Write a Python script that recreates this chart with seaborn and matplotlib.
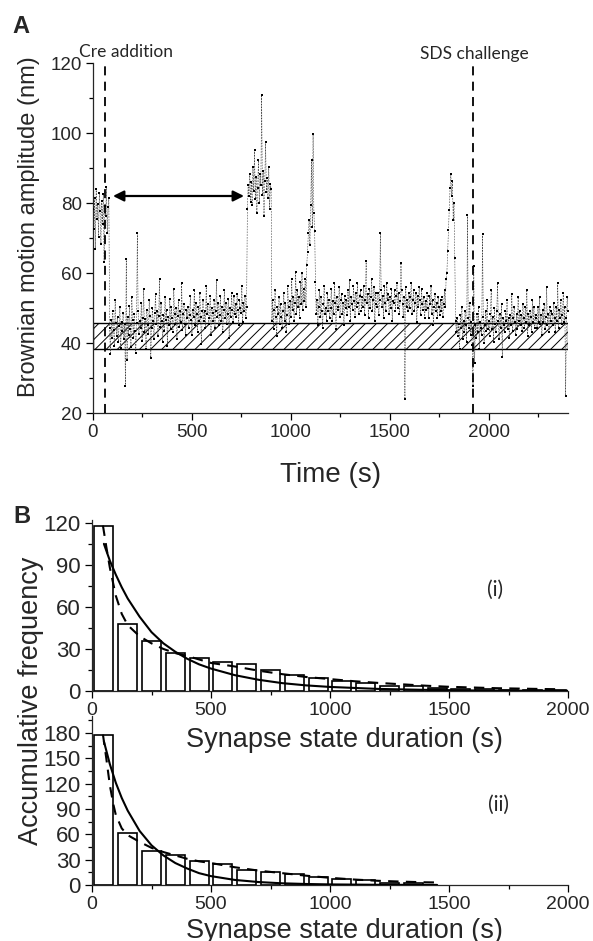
import numpy as np
import pandas as pd
import seaborn as sns
import matplotlib.pyplot as plt
from matplotlib.ticker import MultipleLocator

# ---- panel A: brownian motion amplitude, one reading every 4 s ----
amplitude = [
    78.2, 72.5, 81.3, 66.8, 84.1, 75.4, 79.6, 70.2, 83.0, 77.7, 68.4, 80.5, 74.1, 82.6, 63.2, 79.1, 76.3, 84.6, 71.5, 78.8,
    81.4, 44.2, 36.8, 46.5, 41.3, 49.1, 43.7, 39.2, 52.4, 45.6, 42.1, 47.3, 40.4, 44.8, 50.2, 38.5, 46.1, 43.3, 48.6, 41.2,
    45.3, 27.6, 64.1, 35.2, 47.4, 42.3, 50.6, 44.1, 38.9, 53.2, 46.7, 41.4, 48.2, 43.5, 37.1, 45.8, 71.3, 49.2, 42.6, 46.4,
    44.2, 51.3, 40.5, 47.1, 55.4, 43.2, 46.8, 38.2, 49.5, 45.1, 42.7, 52.2, 47.6, 35.8, 44.4, 50.1, 46.3, 41.2, 48.7, 54.1,
    45.5, 49.2, 42.1, 47.8, 58.3, 44.6, 51.4, 46.2, 40.3, 48.1, 43.4, 53.2, 46.6, 49.4, 39.1, 47.3, 45.2, 52.5, 44.1, 50.2,
    47.2, 43.1, 55.5, 48.4, 45.3, 50.1, 41.2, 47.7, 52.3, 44.5, 49.2, 46.1, 57.2, 43.6, 48.2, 51.1, 45.4, 42.3, 49.5, 47.1,
    50.2, 44.4, 48.1, 53.3, 46.5, 42.2, 49.4, 47.3, 55.2, 45.1, 51.5, 48.2, 43.1, 50.4, 46.2, 54.3, 47.5, 39.8, 49.1, 52.2,
    46.3, 49.1, 44.2, 56.4, 48.3, 51.2, 45.5, 47.1, 53.4, 42.3, 50.1, 48.5, 46.2, 52.3, 44.4, 49.2, 58.1, 47.3, 51.4, 45.2,
    48.1, 53.3, 46.4, 50.2, 43.1, 49.5, 55.1, 47.2, 51.3, 45.4, 48.2, 52.5, 41.3, 50.1, 47.4, 54.2, 49.3, 46.1, 53.4, 48.2,
    51.2, 47.3, 54.1, 49.4, 45.2, 52.3, 50.1, 48.5, 56.2, 46.1, 51.4, 49.2, 53.3, 47.1, 50.3, 78.4, 85.2, 82.1, 88.3, 80.2,
    86.1, 79.3, 90.2, 83.4, 95.1, 81.2, 87.4, 77.1, 84.3, 92.2, 80.1, 88.4, 85.2, 110.9, 82.3, 89.1, 76.2, 86.3, 97.4, 83.2,
    87.1, 81.3, 90.4, 78.2, 85.3, 84.1, 46.2, 52.3, 44.1, 49.4, 55.2, 47.3, 42.1, 50.2, 48.4, 53.1, 45.3, 51.2, 47.4, 44.3,
    49.1, 54.2, 46.3, 51.4, 43.2, 48.1, 56.3, 50.2, 45.4, 52.1, 47.3, 58.2, 49.4, 53.1, 46.2, 51.3, 60.4, 48.2, 55.1, 50.3,
    53.2, 47.1, 57.3, 51.2, 60.1, 49.3, 55.4, 52.1, 58.3, 50.2, 62.4, 66.1, 71.3, 75.2, 68.1, 79.4, 92.3, 73.1, 99.6, 77.2,
    72.1, 57.3, 48.2, 52.4, 45.1, 50.3, 55.2, 47.4, 53.1, 49.2, 44.3, 51.1, 56.2, 48.4, 50.1, 46.3, 54.2, 49.1, 52.3, 47.2,
    50.1, 55.3, 46.2, 52.1, 48.4, 57.2, 51.3, 44.1, 53.2, 49.4, 50.2, 56.1, 47.3, 52.4, 54.1, 48.2, 51.4, 45.2, 53.3, 50.1,
    52.3, 48.1, 55.2, 50.4, 58.1, 46.3, 53.2, 51.1, 49.3, 56.2, 52.1, 47.4, 54.3, 50.2, 57.1, 51.3, 48.2, 53.4, 55.1, 49.2,
    53.1, 50.2, 56.3, 48.1, 52.2, 63.5, 51.4, 54.1, 47.2, 55.3, 50.1, 53.2, 58.4, 49.1, 52.3, 56.1, 46.2, 54.4, 51.1, 50.3,
    54.2, 48.1, 52.3, 71.5, 55.1, 50.2, 53.4, 47.1, 56.2, 51.3, 49.2, 57.1, 52.4, 54.1, 48.3, 53.2, 50.1, 55.4, 46.2, 52.1,
    51.3, 55.1, 49.2, 53.4, 57.2, 50.1, 54.3, 48.2, 52.1, 62.9, 55.2, 51.1, 47.3, 53.2, 23.9, 56.1, 50.3, 52.2, 49.1, 54.2,
    50.1, 53.2, 57.1, 48.3, 52.4, 55.1, 49.2, 51.3, 54.2, 46.1, 53.3, 50.2, 56.1, 52.2, 48.1, 55.3, 51.2, 49.4, 53.1, 47.2,
    52.1, 49.3, 54.2, 50.1, 47.2, 53.3, 51.1, 56.2, 48.3, 52.2, 45.1, 50.4, 54.1, 49.2, 51.3, 47.1, 53.2, 50.3, 48.1, 52.2,
    49.2, 53.1, 47.3, 51.2, 55.1, 50.3, 58.2, 60.1, 66.2, 72.3, 78.1, 84.2, 88.4, 82.1, 86.3, 75.2, 80.1, 64.3, 46.2, 43.1,
    47.2, 42.1, 45.3, 38.2, 48.1, 44.3, 50.2, 41.1, 46.4, 43.2, 49.1, 45.2, 40.3, 76.6, 47.1, 44.2, 51.3, 42.2, 46.1, 39.3,
    27.8, 62.1, 34.2, 45.1, 41.3, 48.2, 43.1, 50.3, 38.2, 46.1, 44.3, 42.2, 71.1, 47.3, 40.1, 45.2, 49.1, 43.3, 52.2, 44.1,
    46.2, 42.1, 48.3, 55.2, 44.1, 47.3, 40.2, 50.1, 45.3, 43.2, 49.1, 57.2, 46.3, 41.1, 48.2, 44.3, 51.1, 35.9, 47.2, 45.1,
    43.2, 49.1, 46.3, 52.2, 44.1, 47.2, 41.3, 48.1, 45.2, 54.1, 43.3, 47.1, 50.2, 46.1, 42.3, 48.2, 44.1, 53.2, 46.3, 49.1,
    45.2, 48.1, 43.3, 51.2, 47.1, 44.2, 50.3, 46.1, 55.2, 42.1, 48.3, 45.1, 49.2, 47.3, 43.1, 52.2, 46.1, 50.3, 44.2, 48.1,
    47.1, 44.3, 50.2, 46.1, 53.2, 45.3, 48.1, 42.2, 49.3, 46.1, 51.2, 44.1, 47.3, 56.1, 45.2, 48.3, 43.1, 50.2, 46.3, 49.1,
    48.2, 45.1, 51.3, 47.2, 43.1, 50.2, 46.3, 57.1, 44.2, 49.3, 47.1, 52.2, 45.3, 48.1, 54.2, 46.1, 50.3, 25.0, 47.2, 53.1,
    49.2,
]
sample_step = 4
time_s = np.arange(len(amplitude)) * sample_step

cre_time = 60
sds_time = 1920
band_low, band_high = 38.2, 45.6
arrow_from, arrow_to, arrow_y = 101, 763, 82

# ---- panel B: histograms of synapse state durations ----
centres_i = [50, 150, 250, 350, 450, 550, 650, 750, 850, 950,
             1050, 1150, 1250, 1350, 1450, 1550, 1650, 1750, 1850, 1950]
counts_i = [118, 48, 36, 27, 23.5, 20.5, 19, 15, 11.5, 9.4,
            6.8, 5.6, 3.5, 3.3, 2.3, 1.5, 1.2, 1.0, 0.8, 0.6]
centres_ii = [50, 150, 250, 350, 450, 550, 650, 750, 850, 950, 1050, 1150, 1250, 1350]
counts_ii = [178, 61, 40, 35, 28, 25, 17.5, 15.5, 13.5, 10, 6.7, 5.5, 2.5, 2]

# fitted curves
single_t_i = [50, 75, 100, 125, 150, 200, 250, 300, 350, 400, 450, 500, 600, 700, 800,
              900, 1000, 1200, 1400, 1600, 1800, 2000]
single_i = [105, 93, 83, 74, 66, 53, 42, 34, 28, 23, 19, 16, 11.3, 8, 5.6,
            4, 2.9, 1.5, 0.8, 0.4, 0.2, 0.1]
double_t_i = [46, 60, 75, 100, 125, 150, 200, 250, 300, 350, 400, 450, 500, 600, 700, 800,
              900, 1000, 1100, 1200, 1300, 1400, 1500, 1600, 1700, 1800, 1900, 1950]
double_i = [118, 103, 88, 68, 55, 47, 39, 34, 30, 27, 25, 22.5, 20, 17.5, 14.5, 12,
            10, 8.5, 7, 5.8, 4.8, 3.8, 3, 2.5, 2, 1.7, 1.4, 1.3]

single_t_ii = [50, 75, 100, 125, 150, 200, 250, 300, 350, 400, 450, 500, 600, 700, 800,
               900, 1000, 1200, 1450]
single_ii = [170, 143, 121, 103, 88, 64, 47, 35, 26, 19.5, 14, 10.5, 6, 3.5, 2,
             1.2, 0.7, 0.25, 0.1]
double_t_ii = [46, 60, 75, 90, 100, 125, 150, 200, 250, 300, 350, 400, 450, 500, 600,
               700, 800, 900, 1000, 1100, 1200, 1300, 1400, 1450]
double_ii = [178, 150, 118, 95, 83, 67, 59, 51, 44, 39, 35, 31, 28, 26, 21,
             17, 14, 11, 8.5, 6.5, 5, 4, 3.2, 3]

sns.set_style('ticks')
plt.rcParams['font.family'] = ['Liberation Sans', 'DejaVu Sans']
plt.rcParams['hatch.linewidth'] = 0.7
plt.rcParams['axes.linewidth'] = 0.9

fig = plt.figure(figsize=(5.93, 9.41), dpi=100)
W, H = 593, 941


def box(l, t, r, b):
    return [l / W, 1 - b / H, (r - l) / W, (b - t) / H]


def style_axis(ax, xsize, ysize):
    for s in ['top', 'right']:
        ax.spines[s].set_visible(False)
    ax.tick_params(which='major', length=5, width=0.9, color='black', direction='out')
    ax.tick_params(which='minor', length=3, width=0.9, color='black', direction='out')
    ax.tick_params(axis='x', labelsize=xsize, pad=3)
    ax.tick_params(axis='y', labelsize=ysize, pad=3)
    ax.grid(False)
    ax.set_facecolor('none')


# ---------------- panel A ----------------
axA = fig.add_axes(box(93, 63, 568, 413))
dfA = pd.DataFrame({'t': time_s, 'amp': amplitude})
axA.axhspan(band_low, band_high, facecolor='white', edgecolor='black',
            hatch='///', lw=1, zorder=1)
sns.lineplot(data=dfA, x='t', y='amp', ax=axA, color='0.25', lw=0.4,
             estimator=None, linestyle=(0, (3, 2)), zorder=2)
sns.scatterplot(data=dfA, x='t', y='amp', ax=axA, color='black', marker='s',
                s=4.5, linewidth=0, zorder=3)
for tv in [cre_time, sds_time]:
    axA.axvline(tv, color='black', lw=1.3, linestyle=(0, (5, 3.5)), zorder=4)
axA.annotate('', xy=(arrow_from, arrow_y), xytext=(arrow_to, arrow_y),
             arrowprops=dict(arrowstyle='<|-|>', color='black', lw=1.6,
                             mutation_scale=16, shrinkA=0, shrinkB=0), zorder=5)
axA.text(-71, 121.7, 'Cre addition', fontsize=12.5, family=['Lato', 'DejaVu Sans'],
         ha='left', va='baseline', clip_on=False)
axA.text(1929, 121.1, 'SDS challenge', fontsize=12.5, family=['Lato', 'DejaVu Sans'],
         ha='center', va='baseline', clip_on=False)
axA.set_xlim(0, 2400)
axA.set_ylim(20, 120)
axA.xaxis.set_major_locator(MultipleLocator(500))
axA.xaxis.set_minor_locator(MultipleLocator(250))
axA.yaxis.set_major_locator(MultipleLocator(20))
axA.yaxis.set_minor_locator(MultipleLocator(10))
style_axis(axA, 13.5, 13.5)
axA.set_xlabel('Time (s)', fontsize=20)
axA.xaxis.set_label_coords(0.5, -0.14)
axA.set_ylabel('Brownian motion amplitude (nm)', fontsize=17)
axA.yaxis.set_label_coords(-0.112, 0.533)


# ---------------- panel B ----------------
def hist_panel(ax, centres, counts, st, sv, dt, dv, ymax, label, lx, ly):
    dfb = pd.DataFrame({'c': centres, 'n': counts})
    sns.barplot(data=dfb, x='c', y='n', ax=ax, native_scale=True, width=0.8,
                color='white', edgecolor='black', linewidth=1.2, errorbar=None,
                saturation=1, zorder=2)
    sns.lineplot(x=st, y=sv, ax=ax, color='black', lw=1.5, estimator=None, zorder=4)
    sns.lineplot(x=dt, y=dv, ax=ax, color='black', lw=1.5, estimator=None,
                 linestyle=(0, (5, 3.5)), zorder=3)
    ax.text(lx, ly, label, fontsize=15, family=['Lato', 'DejaVu Sans'],
            ha='center', va='center')
    ax.set_xlim(0, 2000)
    ax.set_ylim(0, ymax)
    ax.xaxis.set_major_locator(MultipleLocator(500))
    ax.xaxis.set_minor_locator(MultipleLocator(250))
    ax.yaxis.set_major_locator(MultipleLocator(30))
    ax.yaxis.set_minor_locator(MultipleLocator(15))
    style_axis(ax, 14, 16)
    ax.set_ylabel('')
    ax.set_xlabel('Synapse state duration (s)', fontsize=19.5)


axB1 = fig.add_axes(box(92, 520, 568, 691))
hist_panel(axB1, centres_i, counts_i, single_t_i, single_i, double_t_i, double_i,
           122, '(i)', 1693, 72)
axB1.patches[14].set_facecolor('0.45')
axB1.xaxis.set_label_coords(0.53, -0.21)

axB2 = fig.add_axes(box(92, 716, 568, 885))
hist_panel(axB2, centres_ii, counts_ii, single_t_ii, single_ii, double_t_ii, double_ii,
           200, '(ii)', 1706, 95)
axB2.xaxis.set_label_coords(0.53, -0.195)

fig.text(38 / W, 1 - 701 / H, 'Accumulative frequency', fontsize=19.5, rotation=90,
         rotation_mode='anchor', ha='center', va='baseline')
fig.text(12 / W, 1 - 33 / H, 'A', fontsize=17, fontweight='bold')
fig.text(13 / W, 1 - 523 / H, 'B', fontsize=17, fontweight='bold')

fig.savefig('out.png', dpi=100)
